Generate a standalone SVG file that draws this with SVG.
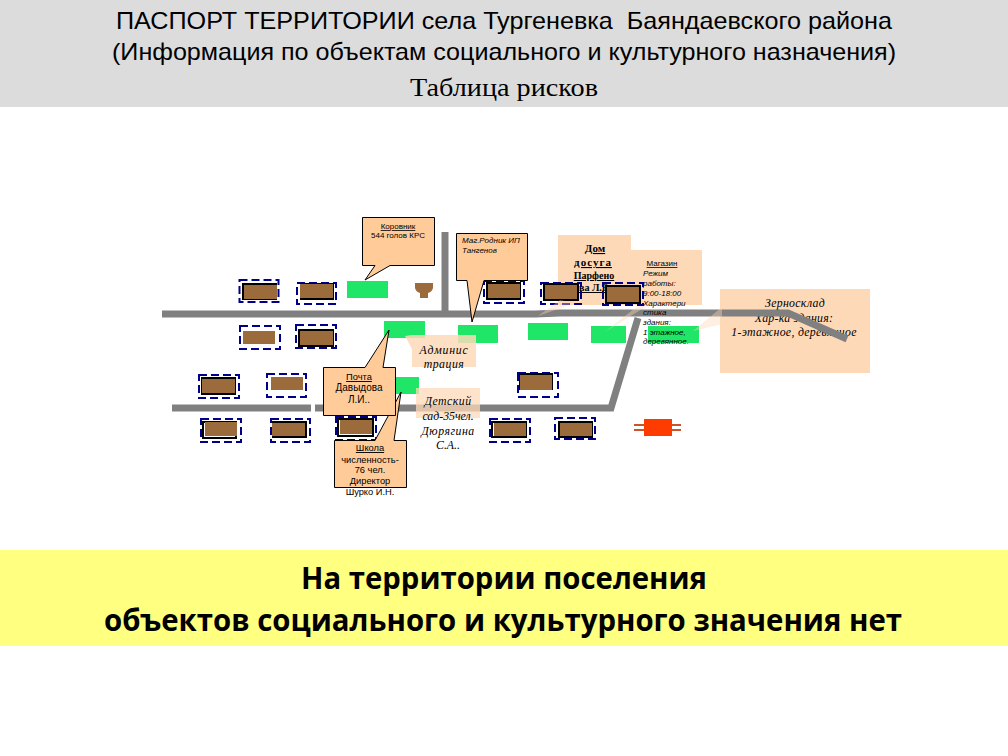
<svg xmlns="http://www.w3.org/2000/svg" width="1008" height="756" viewBox="0 0 1008 756">
<style>
.dash{fill:none;stroke:#00008b;stroke-width:2;stroke-dasharray:8 4}
.frame{fill:#fff;stroke:#000;stroke-width:2}
.brown{fill:#9c6b3c}
.green{fill:#1fe666}
.road{fill:none;stroke:#808080;stroke-width:7;stroke-linejoin:miter}
.call{fill:#ffcc99;stroke:#000;stroke-width:1}
.soft{fill:#fdd9b8}
text{font-family:"Liberation Sans",Arial,sans-serif;fill:#000}
.m{text-anchor:middle}
.s8{font-size:8px}
.s9{font-size:9.300px}
.s10{font-size:10px}
.i8{font-size:8px;font-style:italic}
.ser{font-family:"Liberation Serif","Times New Roman",serif;font-style:italic;font-size:11.800px;text-anchor:middle}
.dom{font-family:"Liberation Serif","Times New Roman",serif;font-weight:bold;font-size:11px;text-anchor:middle;text-decoration:underline}
.u{text-decoration:underline}
.h1{font-size:24px;text-anchor:middle}
.b{font-family:"Open Sans","Noto Sans",sans-serif;font-weight:bold;font-size:29.500px;text-anchor:middle}
</style>
<rect width="1008" height="756" fill="#fff"/>
<g id="header">
<rect width="1008" height="107" fill="#dcdcdc"/>
<text class="h1" x="504" y="29" textLength="776" lengthAdjust="spacingAndGlyphs" xml:space="preserve">ПАСПОРТ ТЕРРИТОРИИ села Тургеневка  Баяндаевского района</text>
<text class="h1" x="504" y="60" textLength="784" lengthAdjust="spacingAndGlyphs">(Информация по объектам социального и культурного назначения)</text>
<text x="504" y="96" text-anchor="middle" style="font-family:'Liberation Serif',serif;font-size:26px" textLength="188" lengthAdjust="spacingAndGlyphs">Таблица рисков</text>
</g>
<g id="footer">
<rect y="550" width="1008" height="96" fill="#ffff80"/>
<text class="b" x="504" y="589" textLength="406" lengthAdjust="spacingAndGlyphs">На территории поселения</text>
<text class="b" x="503" y="631" textLength="798" lengthAdjust="spacingAndGlyphs">объектов социального и культурного значения нет</text>
</g>
<g id="zernosklad">
<rect class="soft" x="720" y="289" width="150" height="84"/>
<text class="ser" x="795" y="307" style="letter-spacing:.3px">Зерносклад</text>
<text class="ser" x="794" y="322" style="letter-spacing:.3px">Хар-ка здания:</text>
<text class="ser" x="794" y="336" style="letter-spacing:.3px">1-этажное, деревянное</text>
</g>
<g id="dom-dosuga">
<rect class="soft" x="558" y="235" width="73" height="70"/>
<text class="dom" x="595" y="252">Дом</text>
<text class="dom" x="593" y="266" style="letter-spacing:1px">досуга</text>
<text class="dom" x="594" y="279" style="font-size:10px">Парфено</text>
<text class="dom" x="595" y="291" style="font-size:10px">ва Л.В.</text>
</g>
<g id="connectors">
<path class="road" d="M445 232V311"/>
<path class="road" d="M162 314H535L560 313H788L847 339"/>
<path class="road" d="M172 408H311M315 408H611L638 318"/>
</g>
<g id="greens">
<rect class="green" x="347" y="281" width="41" height="17"/>
<rect class="green" x="384" y="321" width="41" height="17"/>
<rect class="green" x="458" y="325" width="40" height="18"/>
<rect class="green" x="528" y="323" width="40" height="17"/>
<rect class="green" x="591" y="326" width="35" height="17"/>
<rect class="green" x="648" y="326" width="51" height="17"/>
<rect class="green" x="396" y="377" width="23" height="17"/>
</g>
<g id="silo"><path class="brown" d="M415 283H433V288Q432 292 428 293V298H420V293Q416 292 415 288Z"/></g>
<g id="houses">
<g id="h1"><rect class="dash" x="239.500" y="280" width="39" height="22"/><rect class="frame" x="243" y="284" width="33" height="15"/><rect class="brown" x="244" y="285" width="33" height="14"/></g>
<g id="h2"><rect class="dash" x="297" y="283" width="39" height="21"/><rect class="frame" x="301" y="284" width="32" height="15"/><rect class="brown" x="300" y="284" width="33" height="14"/></g>
<g id="h3"><rect class="dash" x="240" y="326" width="40" height="23"/><rect class="brown" x="243" y="331" width="32" height="13"/></g>
<g id="h4"><rect class="dash" x="296" y="325" width="40" height="23"/><rect class="frame" x="299" y="330" width="34" height="16"/><rect class="brown" x="300" y="331" width="33" height="14"/></g>
<g id="h5"><rect class="dash" x="199" y="375" width="40" height="23"/><rect class="frame" x="202" y="378" width="33" height="16"/><rect class="brown" x="202" y="379" width="33" height="14"/></g>
<g id="h6"><rect class="dash" x="267" y="374" width="39" height="23"/><rect class="brown" x="271" y="377" width="32" height="13"/></g>
<g id="h7"><rect class="dash" x="201" y="419" width="40" height="23"/><rect class="frame" x="203" y="422" width="33" height="16"/><rect class="brown" x="205" y="422" width="32" height="14"/></g>
<g id="h8"><rect class="dash" x="271" y="419" width="39" height="23"/><rect class="frame" x="273" y="422" width="33" height="15"/><rect class="brown" x="272" y="423" width="33" height="13"/></g>
<g id="h9"><rect class="dash" x="336" y="417" width="40" height="23"/><rect class="frame" x="338" y="419" width="35" height="17"/><rect class="brown" x="340" y="420" width="32" height="14"/></g>
<g id="h10"><rect class="dash" x="518" y="373" width="40" height="24"/><rect class="frame" x="520" y="374" width="32" height="15"/><rect class="brown" x="520" y="375" width="32" height="15"/></g>
<g id="h11"><rect class="dash" x="490" y="419" width="40" height="23"/><rect class="frame" x="492" y="422" width="34" height="15"/><rect class="brown" x="494" y="423" width="32" height="13"/></g>
<g id="h12"><rect class="dash" x="555" y="418" width="40" height="21"/><rect class="frame" x="559" y="422" width="33" height="15"/><rect class="brown" x="560" y="423" width="32" height="13"/></g>
<g id="h13"><rect class="dash" x="484" y="281" width="40" height="22"/><rect class="frame" x="487" y="283" width="33" height="16"/><rect class="brown" x="488" y="284" width="32" height="14"/></g>
<g id="h14"><rect class="dash" x="541" y="283" width="40" height="21"/><rect class="frame" x="544" y="284" width="34" height="16"/><rect class="brown" x="545" y="285" width="32" height="14"/></g>
</g>
<g id="substation">
<path d="M634 425H681M634 430H681" stroke="#c8552d" stroke-width="2" fill="none"/>
<rect x="644" y="419" width="28" height="17" fill="#ff3c00"/>
</g>
<g id="tails" fill="#fdd9b8" opacity=".4">
<path d="M560 300L538 316L575 303Z"/>
<path d="M640 304L605 332L650 304Z"/>
<path d="M722 307L693 331L722 324Z"/>
</g>
<g id="magazin">
<path class="soft" d="M631 250H702V305H631Z"/>
<text class="s8 u m" x="662" y="266">Магазин</text>
<text class="i8" x="643" y="276">Режим</text>
<text class="i8" x="643" y="286">работы:</text>
<text class="i8" x="643" y="296">9:00-18:00</text>
<text class="i8" x="643" y="306">Характери</text>
<text class="i8" x="643" y="315">стика</text>
<text class="i8" x="643" y="325">здания:</text>
<text class="i8" x="643" y="335">1 этажное,</text>
<text class="i8" x="643" y="344">деревянное.</text>
</g>
<g id="h15"><rect class="dash" x="603" y="283" width="40" height="22"/><rect class="frame" x="606" y="286" width="34" height="17"/><rect class="brown" x="607" y="287" width="32" height="15"/></g>
<g id="admin">
<path class="soft" opacity=".85" d="M412 335H476V367H412V349L405 336Z"/>
<text class="ser" x="444" y="354" style="letter-spacing:.8px">Админис</text>
<text class="ser" x="444" y="368" style="letter-spacing:.5px">трация</text>
</g>
<g id="detsky">
<rect class="soft" x="416" y="388" width="64" height="30" opacity=".75"/>
<text class="ser" x="448" y="405" style="letter-spacing:.5px">Детский</text>
<text class="ser" x="448" y="420">сад-35чел.</text>
<text class="ser" x="448" y="435" style="letter-spacing:.5px">Дюрягина</text>
<text class="ser" x="448" y="449">С.А..</text>
</g>
<g id="korovnik">
<path class="call" d="M362.500 217.500H434.500V265.500H390L365 280L375 265.500H362.500Z"/>
<text class="s8 u m" x="398" y="229">Коровник</text>
<text class="s8 m" x="398" y="238">544 голов КРС</text>
</g>
<g id="mag-rodnik">
<path class="call" d="M456.500 233.500H527.500V280.500H484L472 322L467 280.500H456.500Z"/>
<text class="i8" x="462" y="243">Маг.Родник ИП</text>
<text class="i8" x="462" y="253">Тангенов</text>
</g>
<g id="shkola">
<path class="call" d="M334.500 440.500H375L401 392L394 440.500H406.500V487.500H334.500Z"/>
<text class="s9 u m" x="370" y="451">Школа</text>
<text class="s9 m" x="370" y="463">численность-</text>
<text class="s9 m" x="370" y="473">76 чел.</text>
<text class="s9 m" x="370" y="484">Директор</text>
<text class="s9 m" x="370" y="495">Шурко И.Н.</text>
</g>
<g id="pochta">
<path class="call" d="M323.500 367.500H365L389 330L383 367.500H395.500V415.500H323.500Z"/>
<text class="s9 u m" x="359" y="380">Почта</text>
<text class="s10 m" x="359" y="391">Давыдова</text>
<text class="s10 m" x="359" y="403">Л.И..</text>
</g>
</svg>
